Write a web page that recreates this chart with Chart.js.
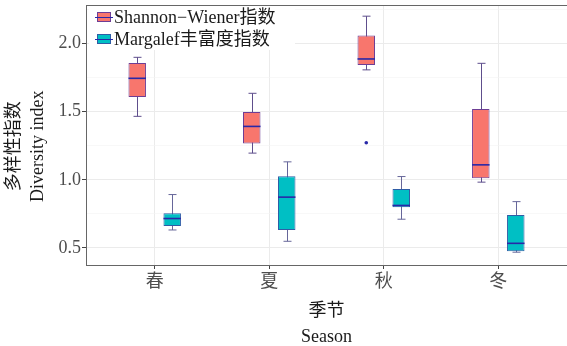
<!DOCTYPE html>
<html>
<head>
<meta charset="utf-8">
<script src="https://cdn.jsdelivr.net/npm/chart.js@4.4.1/dist/chart.umd.min.js"></script>
<style>
html, body { margin: 0; padding: 0; background: #fff; }
#wrap { width: 567px; height: 346px; }
</style>
</head>
<body>
<div id="wrap"><canvas id="boxChart"></canvas></div>
<script>
// 季节与指数数据（箱线图：最小值, Q1, 中位数, Q3, 最大值）
const seasons = ['春', '夏', '秋', '冬'];
const seriesNames = ['Shannon\u2212Wiener指数', 'Margalef丰富度指数'];
const shannonStats = [
	[1.466, 1.608, 1.745, 1.858, 1.899],
	[1.196, 1.267, 1.392, 1.498, 1.635],
	[1.807, 1.843, 1.887, 2.059, 2.201],
	[0.983, 1.012, 1.110, 1.520, 1.855]
];
const margalefStats = [
	[0.632, 0.662, 0.716, 0.755, 0.892],
	[0.549, 0.632, 0.873, 1.027, 1.132],
	[0.711, 0.799, 0.812, 0.932, 1.024],
	[0.469, 0.476, 0.534, 0.742, 0.840]
];
const shannonOutliers = [[], [], [1.272], []];
const margalefOutliers = [[], [], [], []];
const yMajorTicks = [0.5, 1.0, 1.5, 2.0];
const yMinorTicks = [0.75, 1.25, 1.75, 2.25];

const FONT = '"Liberation Serif", "Noto Sans CJK SC", serif';

const styles = [
	{ fill: '#F8766D', border: '#6E3E95', whisker: '#5E4E8C', median: '#2828A8' },
	{ fill: '#00BFC4', border: '#2F5DA6', whisker: '#66669A', median: '#2828A8' }
];

function boxData(stats) {
	return stats.map((s, i) => ({ x: i + 1, y: [s[1], s[3]] }));
}

// 须线・中位数・离群点を描くプラグイン
const boxPlugin = {
	id: 'boxPlugin',
	beforeDatasetsDraw(chart) {
		const ctx = chart.ctx;
		const y = chart.scales.y;
		chart.data.datasets.forEach((ds, di) => {
			const meta = chart.getDatasetMeta(di);
			meta.data.forEach((bar, j) => {
				const s = ds.stats[j];
				const x = Math.round(bar.x) + 0.5;
				const top = y.getPixelForValue(s[4]);
				const bot = y.getPixelForValue(s[0]);
				ctx.save();
				ctx.strokeStyle = ds.whiskerColor;
				ctx.lineWidth = 1;
				ctx.beginPath();
				ctx.moveTo(x, top); ctx.lineTo(x, bot);
				ctx.moveTo(x - 4, top); ctx.lineTo(x + 4, top);
				ctx.moveTo(x - 4, bot); ctx.lineTo(x + 4, bot);
				ctx.stroke();
				ctx.restore();
			});
		});
	},
	afterDatasetsDraw(chart) {
		const ctx = chart.ctx;
		const y = chart.scales.y;
		chart.data.datasets.forEach((ds, di) => {
			const meta = chart.getDatasetMeta(di);
			meta.data.forEach((bar, j) => {
				const s = ds.stats[j];
				const half = bar.width / 2;
				const m = y.getPixelForValue(s[2]);
				ctx.save();
				ctx.strokeStyle = ds.medianColor;
				ctx.lineWidth = 1.6;
				ctx.beginPath();
				ctx.moveTo(bar.x - half, m); ctx.lineTo(bar.x + half, m);
				ctx.stroke();
				ctx.fillStyle = ds.medianColor;
				ds.outliers[j].forEach(v => {
					ctx.beginPath();
					ctx.arc(bar.x, y.getPixelForValue(v), 1.8, 0, Math.PI * 2);
					ctx.fill();
				});
				ctx.restore();
			});
		});
	},
	afterDraw(chart) {
		const ctx = chart.ctx;
		const a = chart.chartArea;
		ctx.save();
		// 上側の枠線
		ctx.strokeStyle = '#666';
		ctx.lineWidth = 1;
		ctx.beginPath();
		ctx.moveTo(a.left, a.top + 0.5); ctx.lineTo(a.right, a.top + 0.5);
		ctx.stroke();
		// 凡例（プロット内左上）
		ctx.fillStyle = '#fff';
		ctx.fillRect(a.left + 3, a.top + 1, 206, 44);
		chart.data.datasets.forEach((ds, i) => {
			const cy = a.top + 12 + i * 22;
			const lx = a.left + 11;
			ctx.fillStyle = ds.backgroundColor;
			ctx.strokeStyle = ds.borderColor;
			ctx.fillRect(lx, cy - 5, 14, 10);
			ctx.strokeRect(lx + 0.5, cy - 4.5, 13, 9);
			ctx.strokeStyle = ds.medianColor;
			ctx.beginPath();
			ctx.moveTo(lx - 2, cy + 0.5); ctx.lineTo(lx + 16, cy + 0.5);
			ctx.stroke();
			ctx.fillStyle = '#1a1a1a';
			ctx.font = '18px ' + FONT;
			ctx.textBaseline = 'middle';
			ctx.fillText(ds.label, lx + 17, cy + 1);
		});
		ctx.restore();
	}
};

const datasets = [shannonStats, margalefStats].map((stats, i) => ({
	label: seriesNames[i],
	data: boxData(stats),
	stats: stats,
	outliers: i === 0 ? shannonOutliers : margalefOutliers,
	backgroundColor: styles[i].fill,
	borderColor: styles[i].border,
	whiskerColor: styles[i].whisker,
	medianColor: styles[i].median,
	borderWidth: 1,
	borderSkipped: false,
	categoryPercentage: 0.611,
	barPercentage: 0.5
}));

const isMajor = v => yMajorTicks.some(t => Math.abs(t - v) < 1e-6);

new Chart(document.getElementById('boxChart'), {
	type: 'bar',
	data: { datasets: datasets },
	options: {
		responsive: true,
		maintainAspectRatio: false,
		animation: false,
		layout: { padding: { top: 5, right: 0, bottom: 0, left: 0 } },
		plugins: { legend: { display: false }, tooltip: { enabled: false } },
		scales: {
			x: {
				type: 'linear',
				min: 0.4,
				max: 4.6,
				offset: false,
				afterBuildTicks: ax => { ax.ticks = seasons.map((_, i) => ({ value: i + 1 })); },
				afterFit: ax => { ax.height = 81; ax.paddingLeft = 0; ax.paddingRight = 0; },
				grid: { offset: false, color: '#EBEBEB', tickColor: '#444', tickLength: 4 },
				border: { display: true, color: '#666' },
				ticks: {
					padding: 2,
					maxRotation: 0,
					color: '#4D4D4D',
					font: { family: FONT, size: 18 },
					callback: v => seasons[v - 1]
				},
				title: {
					display: true,
					text: ['季节', 'Season'],
					color: '#1a1a1a',
					font: { family: FONT, size: 18, lineHeight: 1.45 },
					padding: { top: 0, bottom: -4 }
				}
			},
			y: {
				min: 0.375,
				max: 2.283,
				afterBuildTicks: ax => {
					ax.ticks = yMajorTicks.concat(yMinorTicks).sort((a, b) => a - b).map(v => ({ value: v }));
				},
				afterFit: ax => { ax.width = 86; ax.paddingTop = 0; ax.paddingBottom = 0; },
				grid: {
					color: c => isMajor(c.tick.value) ? '#EBEBEB' : '#F4F4F4',
					lineWidth: c => isMajor(c.tick.value) ? 1 : 0.6,
					tickColor: c => isMajor(c.tick.value) ? '#444' : 'rgba(0,0,0,0)',
					tickLength: 4
				},
				border: { display: true, color: '#666' },
				ticks: {
					padding: 1,
					color: '#4D4D4D',
					font: { family: FONT, size: 18 },
					callback: v => isMajor(v) ? v.toFixed(1) : ''
				},
				title: {
					display: true,
					text: ['多样性指数     ', 'Diversity index     '],
					color: '#1a1a1a',
					font: { family: FONT, size: 18, lineHeight: 1.33 },
					padding: { top: 2, bottom: 0 }
				}
			}
		}
	},
	plugins: [boxPlugin]
});
</script>
</body>
</html>
